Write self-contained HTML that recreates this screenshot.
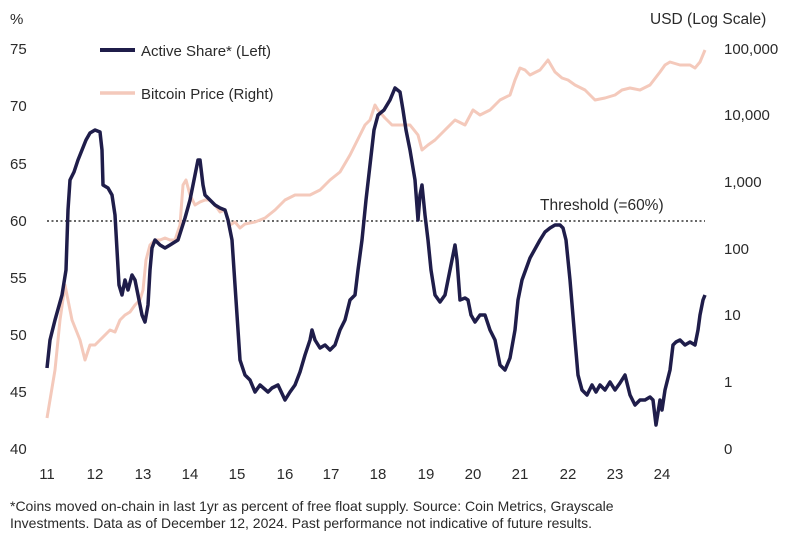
<!DOCTYPE html>
<html><head><meta charset="utf-8"><style>
html,body{margin:0;padding:0;background:#fff;}
svg{display:block;font-family:"Liberation Sans",sans-serif;}
</style></head><body>
<svg width="811" height="541" viewBox="0 0 811 541" xmlns="http://www.w3.org/2000/svg">
<g fill="#2a2a2a" font-size="15">
<text x="10" y="24">%</text>
<text x="10" y="54">75</text><text x="10" y="111">70</text><text x="10" y="169">65</text><text x="10" y="226">60</text>
<text x="10" y="283">55</text><text x="10" y="340">50</text><text x="10" y="397">45</text><text x="10" y="454">40</text>
<text x="650" y="24" font-size="15.5">USD (Log Scale)</text>
<text x="724" y="54">100,000</text><text x="724" y="120">10,000</text><text x="724" y="187">1,000</text>
<text x="724" y="254">100</text><text x="724" y="320">10</text><text x="724" y="387">1</text><text x="724" y="454">0</text>
<g text-anchor="middle">
<text x="47" y="479">11</text><text x="95" y="479">12</text><text x="143" y="479">13</text><text x="190" y="479">14</text>
<text x="237" y="479">15</text><text x="285" y="479">16</text><text x="331" y="479">17</text><text x="378" y="479">18</text>
<text x="426" y="479">19</text><text x="473" y="479">20</text><text x="520" y="479">21</text><text x="568" y="479">22</text>
<text x="615" y="479">23</text><text x="662" y="479">24</text>
</g>
<text x="540" y="210" font-size="15.5">Threshold (=60%)</text>
<text x="141" y="56">Active Share* (Left)</text>
<text x="141" y="99">Bitcoin Price (Right)</text>
<text x="10" y="511" font-size="14">*Coins moved on-chain in last 1yr as percent of free float supply. Source: Coin Metrics, Grayscale</text>
<text x="10" y="528" font-size="14">Investments. Data as of December 12, 2024. Past performance not indicative of future results.</text>
</g>
<line x1="100" y1="50" x2="135" y2="50" stroke="#1f1d4a" stroke-width="4"/>
<line x1="100" y1="93" x2="135" y2="93" stroke="#f4c9bb" stroke-width="3.5"/>
<line x1="47" y1="221" x2="705" y2="221" stroke="#333" stroke-width="1.5" stroke-dasharray="2,2.5"/>
<polyline fill="none" stroke="#f4c9bb" stroke-width="3" stroke-linejoin="round" points="47,418 50,400 55,370 60,320 65,285 68,300 72,320 76,330 80,340 85,360 90,345 95,345 100,340 105,335 110,330 115,332 120,320 125,315 130,312 135,305 140,300 143,290 146,260 150,245 155,240 160,240 165,238 170,240 175,240 180,225 183,185 186,180 190,195 195,205 200,202 205,200 210,200 215,205 220,212 225,210 230,225 235,222 240,228 245,224 255,222 265,218 275,210 285,200 295,195 310,195 320,190 330,180 340,172 350,155 360,135 365,125 370,120 375,105 378,110 385,118 392,125 400,125 410,125 418,135 422,150 428,145 435,140 445,130 455,120 465,125 473,110 480,115 490,110 500,100 510,95 515,80 520,68 525,70 530,75 540,70 548,60 555,72 562,78 568,80 575,85 585,90 595,100 605,98 615,95 622,90 630,88 640,90 650,85 660,72 665,65 670,62 680,65 690,65 695,68 700,62 705,50"/>
<polyline fill="none" stroke="#1f1d4a" stroke-width="3.5" stroke-linejoin="round" points="47,368 50,340 55,320 62,295 66,270 68,210 70,180 74,172 78,160 82,150 86,140 90,133 95,130 100,132 102,150 103,185 108,188 112,195 115,215 117,250 119,285 122,295 125,280 128,290 132,275 135,280 138,295 142,315 145,322 148,305 150,270 152,248 155,240 160,245 165,248 170,245 178,240 185,218 190,200 195,175 198,160 200,160 203,185 205,195 210,200 215,205 220,208 225,210 228,220 232,240 236,300 240,360 245,375 250,380 255,392 260,385 268,392 272,388 278,385 285,400 290,392 295,385 300,372 305,355 310,340 312,330 315,340 320,348 325,345 330,350 335,345 340,330 345,320 350,300 355,295 358,270 362,240 366,200 370,165 374,130 378,115 384,110 390,100 395,88 400,92 403,110 406,130 410,150 415,180 418,220 420,195 422,185 425,215 428,240 431,270 435,295 440,302 445,295 448,280 452,260 455,245 457,260 460,300 465,298 468,300 471,315 475,322 480,315 485,315 490,330 495,340 500,365 505,370 510,358 515,330 518,300 522,280 530,258 540,240 545,232 550,228 555,225 560,225 563,228 566,240 570,280 575,340 578,375 582,390 587,395 592,385 596,392 600,385 605,390 610,382 615,390 620,383 625,375 630,395 635,405 640,400 645,400 650,397 653,400 656,425 660,400 662,410 665,390 670,370 673,345 676,342 680,340 685,345 690,342 695,345 698,330 700,315 703,300 705,295"/>
</svg>
</body></html>
